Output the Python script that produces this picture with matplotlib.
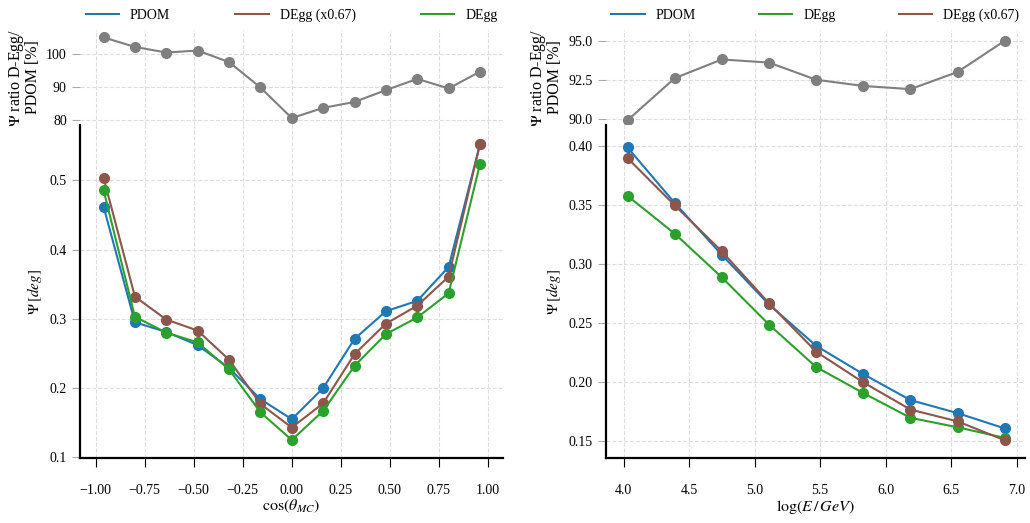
import numpy as np
import matplotlib
matplotlib.use("Agg")
import matplotlib.pyplot as plt
from matplotlib.lines import Line2D

plt.rcParams['font.family'] = ['Liberation Serif', 'DejaVu Serif']
plt.rcParams['mathtext.fontset'] = 'stix'
plt.rcParams['font.size'] = 10
plt.rcParams['axes.labelsize'] = 11.5

# angular resolution vs zenith
cos_zen = [-0.96, -0.80, -0.64, -0.48, -0.32, -0.16, 0.00, 0.16, 0.32, 0.48, 0.64, 0.80, 0.96]
pdom_zen = [0.462, 0.295, 0.281, 0.262, 0.229, 0.184, 0.155, 0.200, 0.271, 0.311, 0.326, 0.375, 0.552]
degg_scaled_zen = [0.504, 0.332, 0.299, 0.283, 0.241, 0.177, 0.143, 0.178, 0.249, 0.293, 0.319, 0.361, 0.553]
degg_zen = [0.486, 0.303, 0.280, 0.266, 0.227, 0.165, 0.125, 0.167, 0.232, 0.278, 0.302, 0.337, 0.524]
ratio_zen = [105.1, 102.2, 100.5, 101.1, 97.6, 89.9, 80.6, 83.7, 85.5, 89.1, 92.5, 89.6, 94.7]

# angular resolution vs energy
log_e = [4.03, 4.39, 4.75, 5.11, 5.47, 5.83, 6.19, 6.55, 6.91]
pdom_e = [0.399, 0.352, 0.308, 0.266, 0.231, 0.207, 0.185, 0.174, 0.161]
degg_e = [0.358, 0.326, 0.289, 0.249, 0.213, 0.191, 0.170, 0.162, 0.153]
degg_scaled_e = [0.390, 0.350, 0.311, 0.267, 0.226, 0.200, 0.177, 0.167, 0.151]
ratio_e = [89.9, 92.6, 93.8, 93.6, 92.5, 92.1, 91.9, 93.0, 95.0]

fig = plt.figure(figsize=(10.3, 5.23), dpi=100)

ax_lt = fig.add_axes([0.0777, 0.761, 0.4106, 0.182])
ax_lm = fig.add_axes([0.0777, 0.1243, 0.4106, 0.6367], sharex=ax_lt)
ax_rt = fig.add_axes([0.588, 0.761, 0.407, 0.182])
ax_rm = fig.add_axes([0.588, 0.1243, 0.407, 0.6367], sharex=ax_rt)

ms = 7
lw = 1.5


def style_top(ax):
    for s in ax.spines.values():
        s.set_visible(False)
    ax.grid(True, linestyle='--', color='#dddddd', linewidth=0.8)
    ax.tick_params(axis='x', direction='out', length=6.5, color='black', labelbottom=False)
    ax.tick_params(axis='y', direction='out', length=6, color='#aaaaaa')
    ax.set_ylabel('$\\Psi$ ratio D-Egg/\nPDOM [%]', linespacing=0.9)


def style_main(ax):
    ax.spines['top'].set_visible(False)
    ax.spines['right'].set_visible(False)
    ax.spines['left'].set_linewidth(1.6)
    ax.spines['bottom'].set_linewidth(1.6)
    ax.grid(True, linestyle='--', color='#dddddd', linewidth=0.8)
    ax.tick_params(axis='x', direction='out', length=6.5, color='black', pad=12)
    ax.tick_params(axis='y', direction='out', length=6, color='#aaaaaa')
    ax.set_ylabel('$\\Psi\\,[deg]$', fontsize=11)


def top_legend(ax, series):
    handles = [Line2D([], [], color=c, lw=lw) for c, _ in series]
    labels = [t for _, t in series]
    ax.legend(handles, labels, ncol=3, mode='expand', frameon=False, loc='lower left',
              bbox_to_anchor=(0.0, 1.02, 1.0, 0.2), handlelength=2.4, borderaxespad=0)


# left: zenith
ax_lt.plot(cos_zen, ratio_zen, 'o-', color='tab:gray', lw=lw, ms=ms)
ax_lt.set_ylim(78.5, 107.4)
ax_lt.set_yticks([80, 90, 100])
style_top(ax_lt)

ax_lm.plot(cos_zen, pdom_zen, 'o-', color='tab:blue', lw=lw, ms=ms)
ax_lm.plot(cos_zen, degg_scaled_zen, 'o-', color='tab:brown', lw=lw, ms=ms)
ax_lm.plot(cos_zen, degg_zen, 'o-', color='tab:green', lw=lw, ms=ms)
ax_lm.set_xlim(-1.08, 1.077)
ax_lm.set_ylim(0.099, 0.58)
ax_lm.set_xticks(np.arange(-1.0, 1.01, 0.25))
ax_lm.set_yticks([0.1, 0.2, 0.3, 0.4, 0.5])
ax_lm.set_xlabel('$\\cos(\\theta_{MC})$', labelpad=1)
style_main(ax_lm)
top_legend(ax_lt, [('tab:blue', 'PDOM'), ('tab:brown', 'DEgg (x0.67)'), ('tab:green', 'DEgg')])

# right: energy
ax_rt.plot(log_e, ratio_e, 'o-', color='tab:gray', lw=lw, ms=ms)
ax_rt.set_ylim(89.6, 95.7)
ax_rt.set_yticks([90.0, 92.5, 95.0])
style_top(ax_rt)

ax_rm.plot(log_e, pdom_e, 'o-', color='tab:blue', lw=lw, ms=ms)
ax_rm.plot(log_e, degg_e, 'o-', color='tab:green', lw=lw, ms=ms)
ax_rm.plot(log_e, degg_scaled_e, 'o-', color='tab:brown', lw=lw, ms=ms)
ax_rm.set_xlim(3.863, 7.063)
ax_rm.set_ylim(0.136, 0.418)
ax_rm.set_xticks(np.arange(4.0, 7.01, 0.5))
ax_rm.set_yticks([0.15, 0.20, 0.25, 0.30, 0.35, 0.40])
ax_rm.yaxis.set_major_formatter(matplotlib.ticker.FormatStrFormatter('%.2f'))
ax_rm.set_xlabel('$\\log(E\\,/\\,GeV)$', labelpad=1)
style_main(ax_rm)
top_legend(ax_rt, [('tab:blue', 'PDOM'), ('tab:green', 'DEgg'), ('tab:brown', 'DEgg (x0.67)')])

fig.savefig('out.png', dpi=100)
